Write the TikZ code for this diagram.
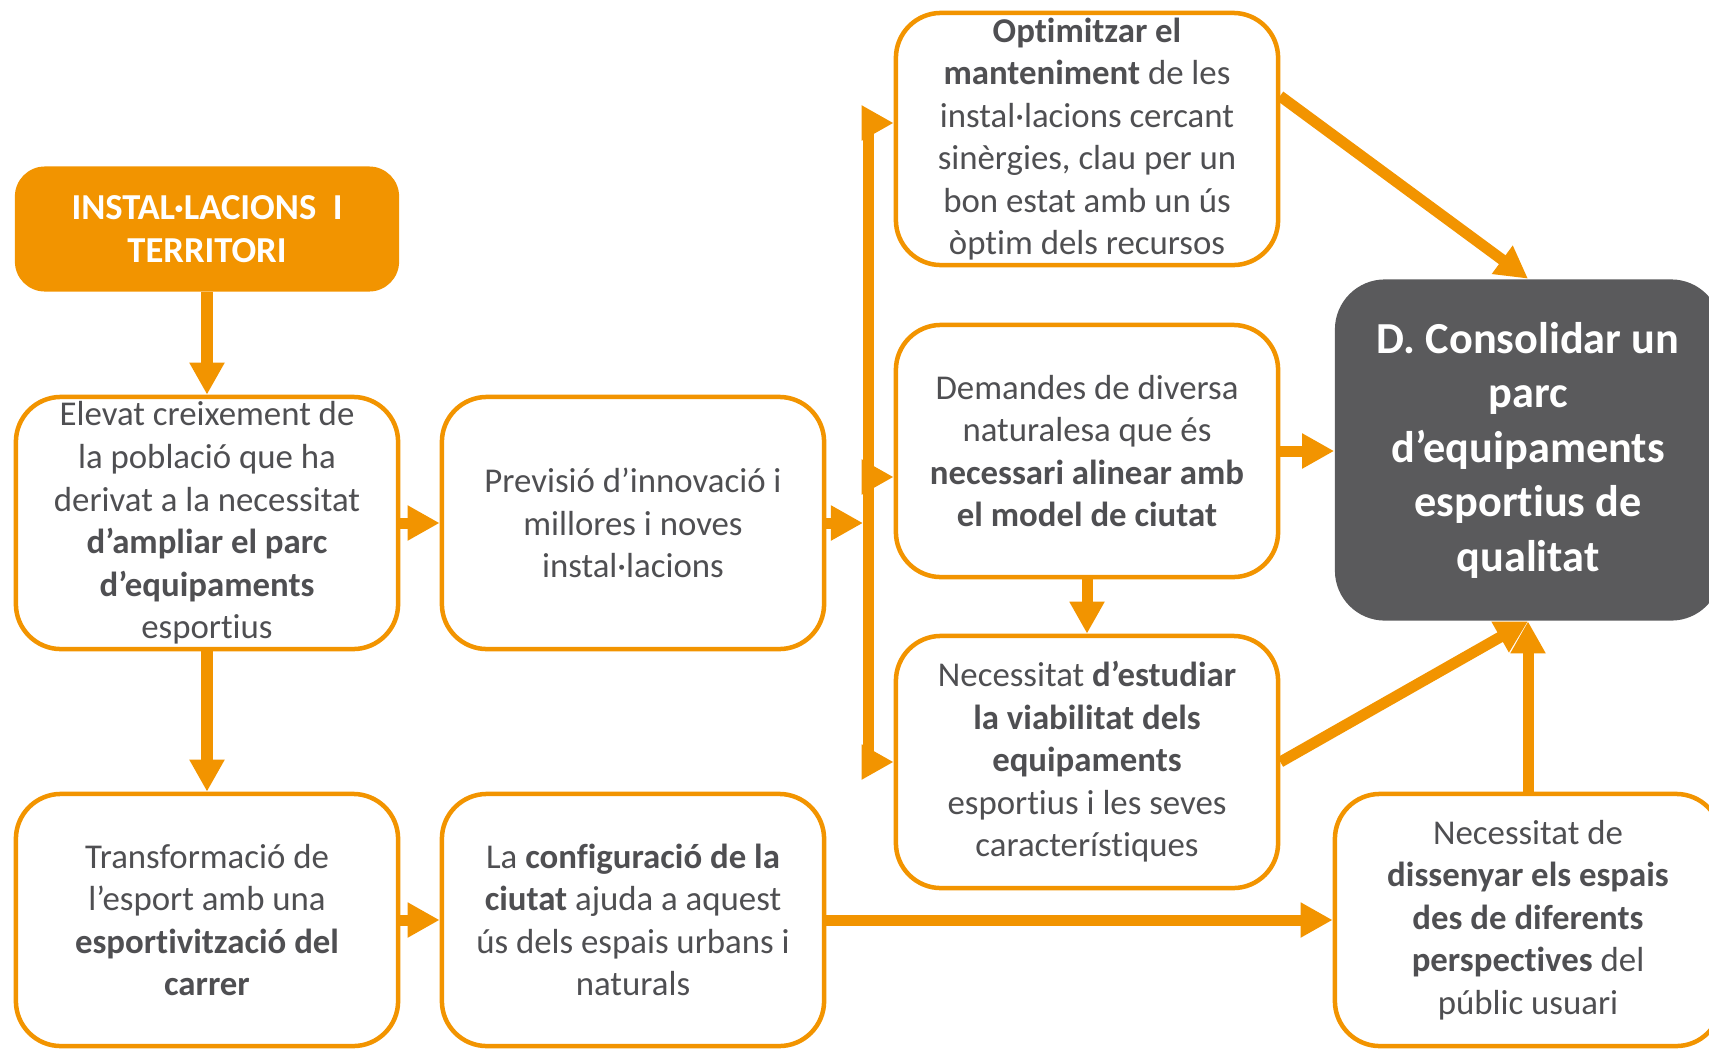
\documentclass[tikz,border=0pt]{standalone}
\usepackage{fontspec}
\setmainfont[Ligatures=NoCommon]{Carlito}
\usetikzlibrary{arrows.meta,calc}
\definecolor{ArrowClr}{rgb}{0.949,0.580,0}
\definecolor{GoalClr}{rgb}{0.353,0.353,0.361}
\definecolor{TextClr}{rgb}{0.31,0.31,0.32}

\begin{document}
\begin{tikzpicture}[x=0.01cm,y=-0.01cm]
\tikzset{
  box/.style={draw=ArrowClr,line width=0.045cm,fill=white,rounded corners=0.45cm,
    minimum width=3.82cm,minimum height=2.52cm,inner sep=0pt,align=center,
    text=TextClr,font=\fontsize{9.9}{12.1}\selectfont},
  topbox/.style={fill=ArrowClr,rounded corners=0.3cm,minimum width=3.84cm,
    minimum height=1.25cm,inner sep=0pt,align=center,text=white,
    font=\bfseries\fontsize{10.4}{12.2}\selectfont},
  goalbox/.style={fill=GoalClr,rounded corners=0.5cm,minimum width=3.86cm,
    minimum height=3.41cm,inner sep=0pt,align=center,text=white,
    font=\bfseries\fontsize{12.6}{15.5}\selectfont},
  flow/.style={draw=ArrowClr,line width=0.11cm,-{Triangle[length=0.32cm,width=0.33cm]}},
  wire/.style={draw=ArrowClr,line width=0.11cm}
}
\useasboundingbox (0,0) rectangle (1709,1048);
\clip (0,0) rectangle (1709,1048);

\node[topbox] (inst) at (207,229) {INSTAL·LACIONS\ \ I\\TERRITORI};

\node[box] (elev) at (207,523) {Elevat creixement de\\la població que ha\\derivat a la necessitat\\\textbf{d’ampliar el parc}\\\textbf{d’equipaments}\\esportius};
\node[box] (prev) at (633,523) {Previsió d’innovació i\\millores i noves\\instal·lacions};
\node[box] (trans) at (207,920) {Transformació de\\l’esport amb una\\\textbf{esportivització del}\\\textbf{carrer}};
\node[box] (conf) at (633,920) {La \textbf{configuració de la}\\\textbf{ciutat} ajuda a aquest\\ús dels espais urbans i\\naturals};

\node[box] (opt) at (1087,139) {\textbf{Optimitzar el}\\\textbf{manteniment} de les\\instal·lacions cercant\\sinèrgies, clau per un\\bon estat amb un ús\\òptim dels recursos};
\node[box] (dem) at (1087,451) {Demandes de diversa\\naturalesa que és\\\textbf{necessari alinear amb}\\\textbf{el model de ciutat}};
\node[box] (nec) at (1087,762) {Necessitat \textbf{d’estudiar}\\\textbf{la viabilitat dels}\\\textbf{equipaments}\\esportius i les seves\\característiques};

\node[goalbox] (goal) at (1528,450) {D. Consolidar un\\parc\\d’equipaments\\esportius de\\qualitat};
\node[box,minimum width=3.86cm] (diss) at (1528,920) {Necessitat de\\\textbf{dissenyar els espais}\\\textbf{des de diferents}\\\textbf{perspectives} del\\públic usuari};

\coordinate (busL) at (863,0);
\coordinate (b1) at (868,123);
\coordinate (b2) at (868,477);
\coordinate (b3) at (868,762);
\coordinate (o1) at (1280,96);

\draw[flow] (inst) -- (elev);
\draw[flow] (elev) -- (trans);
\draw[flow] (elev) -- (prev);
\draw[flow] (trans) -- (conf);
\draw[flow] (conf) -- (diss);

\draw[flow] (prev.east) -- (prev.east -| busL);
\draw[wire] (b1) -- (b3);
\draw[flow] (b1) -- (b1 -| opt.west);
\draw[flow] (b2) -- (b2 -| dem.west);
\draw[flow] (b3) -- (nec.west);

\draw[flow] (dem) -- (nec);
\draw[flow] (dem.east) -- (dem.east -| goal.west);
\draw[flow] (o1) -- (goal.north);
\draw[flow] (nec.east) -- (goal.south);
\draw[flow] (diss) -- (goal);

\end{tikzpicture}
\end{document}
